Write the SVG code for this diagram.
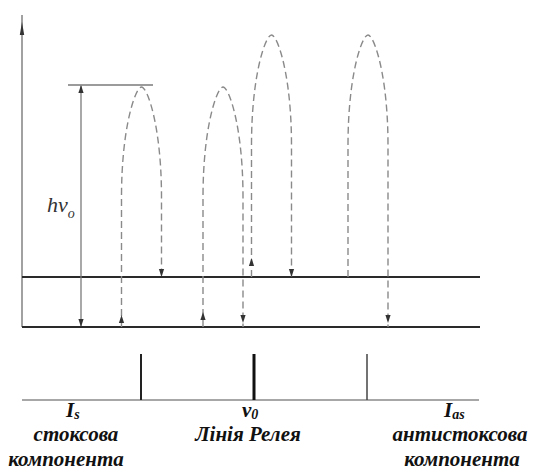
<svg xmlns="http://www.w3.org/2000/svg" width="534" height="471" viewBox="0 0 534 471">
<style>
.axis{stroke:#8a8a8a;stroke-width:1.6;fill:none}
.level{stroke:#2a2a2a;stroke-width:2;fill:none}
.solid{stroke:#7a7a7a;stroke-width:1.3;fill:none}
.dash{stroke:#8a8a8a;stroke-width:1.4;fill:none;stroke-dasharray:7 4}
.ah{fill:#333}
.lbl{font-family:"Liberation Serif","Times New Roman",serif;font-weight:bold;font-style:italic;fill:#111}
.sym{font-family:"Liberation Serif","Times New Roman",serif;font-style:italic;fill:#333}
</style>
<defs>
<path id="ahd" class="ah" d="M0,0 L-2.6,-8 L2.6,-8 Z"/>
<path id="ahu" class="ah" d="M0,0 L-2.6,8 L2.6,8 Z"/>
</defs>
<g id="axes">
<line class="axis" x1="22" y1="15" x2="22" y2="327"/>
<path class="ah" d="M22,22 L19.8,35 L24.2,35 Z"/>
</g>
<g id="levels">
<line class="level" x1="22" y1="277" x2="480" y2="277"/>
<line class="level" x1="22" y1="327" x2="480" y2="327"/>
</g>
<g id="energy">
<line class="solid" x1="68" y1="85" x2="153" y2="85"/>
<line class="solid" x1="81" y1="86" x2="81" y2="326"/>
<use href="#ahu" x="81" y="85"/>
<use href="#ahd" x="81" y="327"/>
<text class="sym" x="47" y="212" font-size="22">hv<tspan font-size="14" dy="6">o</tspan></text>
</g>
<g id="connectors">
<path class="dash" d="M121.5,327 V197 C121.5,127 135.5,87 141.5,87 C147.5,87 161.5,127 161.5,197 V277"/>
<path class="dash" d="M203,327 V197 C203,127 217,87 223,87 C229,87 243,127 243,197 V327"/>
<path class="dash" d="M251.5,277 V145 C251.5,75 265.5,35 271.5,35 C277.5,35 291.5,75 291.5,145 V277"/>
<path class="dash" d="M348,277 V145 C348,75 362,35 368,35 C374,35 388,75 388,145 V327"/>
<use href="#ahu" x="121.5" y="315"/>
<use href="#ahd" x="161.5" y="277"/>
<use href="#ahu" x="203" y="312"/>
<use href="#ahd" x="243" y="323"/>
<use href="#ahu" x="251.5" y="258"/>
<use href="#ahd" x="291.5" y="277"/>
<use href="#ahd" x="388" y="323"/>
</g>
<g id="spectrum">
<line class="axis" x1="22" y1="400" x2="479" y2="400"/>
<line x1="141" y1="354" x2="141" y2="400" stroke="#222" stroke-width="2"/>
<line x1="254" y1="354" x2="254" y2="400" stroke="#111" stroke-width="3"/>
<line x1="367" y1="354" x2="367" y2="400" stroke="#444" stroke-width="1.5"/>
</g>
<g id="label-stokes">
<text class="lbl" x="66" y="417" font-size="21">I<tspan font-size="14" dy="2">s</tspan></text>
<text class="lbl" x="76" y="441" font-size="21" text-anchor="middle">стоксова</text>
<text class="lbl" x="66" y="466" font-size="21" text-anchor="middle">компонента</text>
</g>
<g id="label-rayleigh">
<text class="lbl" x="242" y="417" font-size="21">v<tspan font-size="14" dy="2">0</tspan></text>
<text class="lbl" x="248" y="441" font-size="21" text-anchor="middle">Лінія Релея</text>
</g>
<g id="label-antistokes">
<text class="lbl" x="444" y="417" font-size="21">I<tspan font-size="14" dy="2">as</tspan></text>
<text class="lbl" x="460" y="441" font-size="21" text-anchor="middle">антистоксова</text>
<text class="lbl" x="462" y="466" font-size="21" text-anchor="middle">компонента</text>
</g>
</svg>
